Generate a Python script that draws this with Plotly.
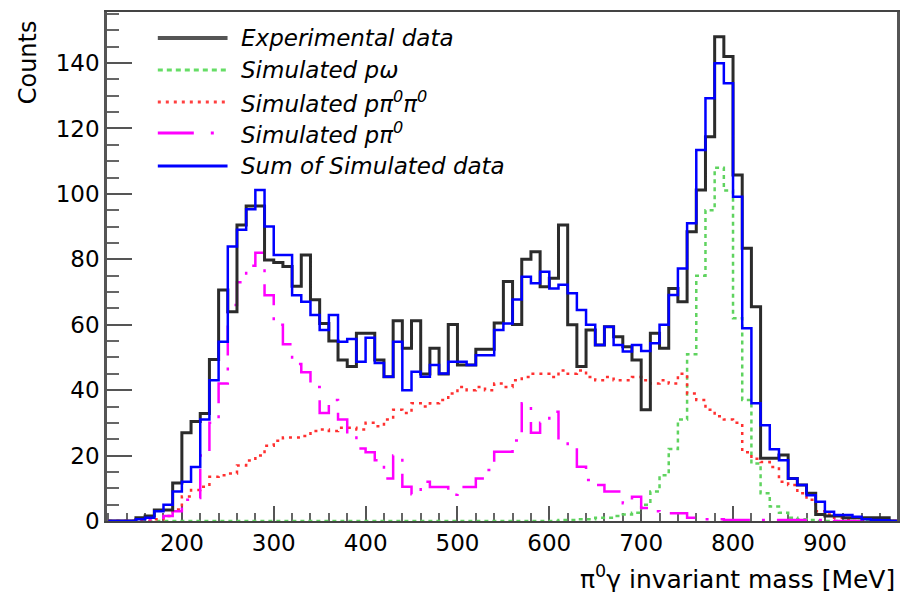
import plotly.graph_objects as go

# ---------------- data (10 MeV bins, lower edges 120 ... 970) ----------------
bin_edges = list(range(120, 990, 10))

exp_data = [
    0, 0, 0, 1, 1.5, 3.4, 3.4, 11.6,
    27, 30.4, 32.9, 49.4, 70.6, 64, 90.5, 96.3, 96.3, 79.8,
    79, 77.8, 71.8, 81.3, 67.6, 60.4, 55, 49.2, 47.2, 57.4,
    57.4, 49.2, 44.1, 61.2, 52.8, 61.2, 44.9, 52.8, 44.9, 60.1,
    47.7, 47.7, 52.5, 52.5, 60.5, 73.2, 60.1, 80, 82.3, 71.6,
    74.2, 90.5, 60, 47.2, 58.4, 53.8, 59.4, 56.3, 53.3, 49.2,
    34, 57.4, 52.8, 71.1, 67, 88.4, 101.2, 117.5, 148, 142,
    105.8, 83.4, 65.5, 19.2, 19.2, 20.2, 13, 11, 8.5, 2,
    1.5, 1.5, 1, 1, 1, 1, 1, 0,
]

sim_sum = [
    0, 0, 0, 0.5, 1, 3, 5, 9,
    12, 16.5, 31, 43, 54.8, 83.9, 89, 95.3, 101.2, 90,
    81.3, 81.3, 69, 67, 63, 58.4, 63, 54.8, 55.6, 48.7,
    56, 48.3, 44.1, 54.8, 40, 45.6, 44.1, 47.7, 45.1, 48.7,
    48.7, 47.7, 50.7, 50.7, 58.4, 60.4, 67.7, 74.7, 72.7, 76.2,
    71.1, 72.2, 69.6, 64.5, 60, 53.8, 59.4, 53.8, 51.8, 53.8,
    52, 54.3, 60, 69.1, 77.2, 91, 113.4, 129.2, 139.9, 133.8,
    99.1, 58.9, 36, 29.3, 21.9, 18.6, 13, 11, 7.9, 5.9,
    2.8, 1.8, 1.8, 1.3, 0.5, 0.3, 0.2, 0,
]

sim_p_omega = [
    0, 0, 0, 0, 0, 0, 0, 0,
    0, 0, 0, 0, 0, 0, 0, 0, 0, 0,
    0, 0, 0, 0, 0, 0, 0, 0, 0, 0,
    0, 0, 0, 0, 0, 0, 0, 0, 0, 0,
    0, 0, 0, 0, 0, 0, 0, 0, 0, 0,
    0, 0.3, 0.3, 0.5, 0.5, 1, 1, 1.5, 2, 2.5,
    5, 9, 14, 22, 31, 51, 75, 95, 108, 101,
    62, 37, 17.6, 8.5, 4.4, 2.5, 1, 0.5, 0.3, 0,
    0, 0, 0, 0, 0, 0, 0, 0,
]

sim_p_2pi0 = [
    0, 0, 0, 0, 0, 0.5, 1.5, 3.5,
    7.5, 9.5, 10.5, 13.5, 14, 14.5, 17, 18.5, 20, 23,
    24.5, 25.5, 25.5, 26, 27.5, 28, 27.5, 28.5, 28.5, 28,
    30, 29, 31, 34, 33, 36, 35, 36, 37, 39,
    41, 40, 41, 40, 42, 41, 43, 44, 45, 45,
    44, 46, 45, 46, 44, 43, 44, 43, 43, 44,
    43, 42, 43, 42, 45, 39, 37, 34, 32, 31,
    30, 21, 19, 18, 16.5, 12, 11, 8.5, 6.5, 3,
    2, 1, 0.5, 0, 0, 0, 0, 0,
]

sim_p_pi0 = [
    0, 0, 0, 0.5, 0.5, 1, 1.5, 3,
    6.5, 7, 20, 30, 42, 66, 73, 78, 82, 69,
    60, 54, 48, 45.5, 41, 33, 37, 31, 26, 22.2,
    21, 18.6, 13, 20, 10.5, 8.2, 12, 10.4, 10.4, 8,
    10.4, 10.4, 13, 15.6, 21.2, 21.2, 24.6, 36, 27, 30,
    33.4, 24.8, 22.3, 16.6, 12.5, 11, 9, 9, 5.4, 7.4,
    4, 3, 2.4, 2.4, 2.4, 1, 1, 0.5, 0.5, 0.3,
    0.3, 0.3, 0.3, 0.3, 0.3, 0.3, 0.3, 0.3, 0.3, 0.3,
    0.3, 0, 0, 0, 0, 0, 0, 0,
]

y_ticks = [0, 20, 40, 60, 80, 100, 120, 140]
x_ticks = [200, 300, 400, 500, 600, 700, 800, 900]

legend_labels = [
    "<i>Experimental data</i>",
    "<i>Simulated pω</i>",
    "<i>Simulated pπ<sup>0</sup>π<sup>0</sup></i>",
    "<i>Simulated pπ<sup>0</sup></i>",
    "<i>Sum of Simulated data</i>",
]

# ---------------- styles ----------------
FONT = "DejaVu Sans"
styles = [
    dict(color="#2b2b2b", width=3, dash="solid"),          # experimental
    dict(color="#5fd35f", width=2.5, dash="4px,4px"),      # p omega
    dict(color="#ff3030", width=2.5, dash="3px,5px"),      # p pi0 pi0
    dict(color="#ff00ff", width=2.5, dash="30px,12px,3px,12px"),  # p pi0
    dict(color="#0000ff", width=2.5, dash="solid"),        # sum
]
legend_sample = [
    dict(color="#555555", width=4, dash="solid"),
    dict(color="#66dd66", width=3, dash="5px,4px"),
    dict(color="#ff4040", width=3, dash="3px,5px"),
    dict(color="#ff00ff", width=3, dash="36px,17px,3px,17px"),
    dict(color="#0000ff", width=3, dash="solid"),
]


def step_xy(vals):
    xs = bin_edges[:]
    ys = list(vals) + [vals[-1]]
    return xs, ys


fig = go.Figure()
order = [(sim_p_omega, 1), (sim_p_2pi0, 2), (sim_p_pi0, 3), (exp_data, 0), (sim_sum, 4)]
for vals, si in order:
    xs, ys = step_xy(vals)
    fig.add_trace(go.Scatter(x=xs, y=ys, mode="lines", line_shape="hv",
                             line=styles[si], showlegend=False, hoverinfo="skip"))

# ---------------- legend (drawn manually) ----------------
x0_px, x1_px = 107.0, 900.0
y0_px, y1_px = 521.0, 12.0
def px2paper_x(px):
    return (px - x0_px) / (x1_px - x0_px)
def px2paper_y(py):
    return (y0_px - py) / (y0_px - y1_px)

leg_rows = [38, 70, 102, 133, 166]
shapes = []
annotations = []
for i, (lab, row) in enumerate(zip(legend_labels, leg_rows)):
    yy = px2paper_y(row)
    shapes.append(dict(type="line", xref="paper", yref="paper",
                       x0=px2paper_x(158), x1=px2paper_x(228), y0=yy, y1=yy,
                       line=legend_sample[i]))
    annotations.append(dict(text=lab, xref="paper", yref="paper",
                            x=px2paper_x(240), y=yy, xanchor="left", yanchor="middle",
                            showarrow=False, font=dict(family=FONT, size=23, color="black")))

annotations.append(dict(text="Counts", xref="paper", yref="paper", textangle=-90,
                        x=px2paper_x(28), y=px2paper_y(62), xanchor="center", yanchor="middle",
                        showarrow=False, font=dict(family=FONT, size=24, color="black")))
annotations.append(dict(text="π<sup>0</sup>γ invariant mass [MeV]", xref="paper", yref="paper",
                        x=1.0, y=px2paper_y(577), xanchor="right", yanchor="middle",
                        showarrow=False, font=dict(family=FONT, size=25, color="black")))

fig.update_layout(
    width=905, height=592,
    margin=dict(l=107, r=5, t=12, b=71, pad=0),
    paper_bgcolor="white", plot_bgcolor="white",
    showlegend=False,
    shapes=shapes, annotations=annotations,
    font=dict(family=FONT, size=23, color="black"),
)
fig.update_xaxes(
    range=[118.5, 978.5], showgrid=False, zeroline=False,
    showline=True, mirror=True, linecolor="#444444", linewidth=2,
    ticks="inside", ticklen=15, tickwidth=2, tickcolor="#555555",
    tickvals=x_ticks, ticktext=[str(v) for v in x_ticks],
    tickfont=dict(family=FONT, size=23, color="black"),
    minor=dict(ticks="inside", ticklen=8, tickwidth=2, tickcolor="#666666", dtick=20, tick0=0, showgrid=False),
    layer="below traces",
)
fig.update_yaxes(
    range=[0, 155.6], showgrid=False, zeroline=False,
    showline=True, mirror=True, linecolor="#555555", linewidth=2.5,
    ticks="inside", ticklen=25, tickwidth=2, tickcolor="#555555",
    tickvals=y_ticks, ticktext=[str(v) for v in y_ticks],
    tickfont=dict(family=FONT, size=23, color="black"),
    minor=dict(ticks="inside", ticklen=12, tickwidth=2, tickcolor="#666666", dtick=5, tick0=0, showgrid=False),
    layer="below traces",
)

fig.write_html("out.html")
